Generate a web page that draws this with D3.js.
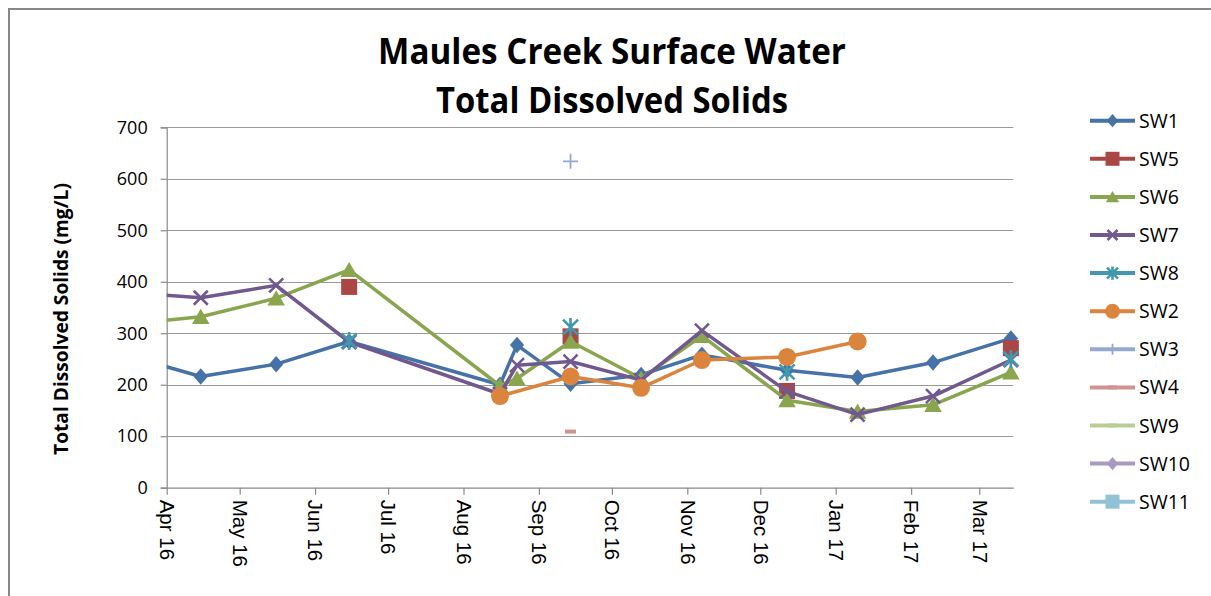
<!DOCTYPE html>
<html>
<head>
<meta charset="utf-8">
<script src="https://cdn.jsdelivr.net/npm/d3@7"></script>
<style>
  html, body { margin: 0; padding: 0; background: #fff; overflow: hidden; }
  svg { display: block; }
</style>
</head>
<body>
<div id="chart"></div>
<script>
// --- data ---
var xDomain = ["2016-04-01", "2017-03-15"];
var tickDates = ["2016-04-01", "2016-05-01", "2016-06-01", "2016-07-01", "2016-08-01", "2016-09-01",
                 "2016-10-01", "2016-11-01", "2016-12-01", "2017-01-01", "2017-02-01", "2017-03-01"];
var tickLabels = ["Apr 16", "May 16", "Jun 16", "Jul 16", "Aug 16", "Sep 16",
                  "Oct 16", "Nov 16", "Dec 16", "Jan 17", "Feb 17", "Mar 17"];
var yTicks = [0, 100, 200, 300, 400, 500, 600, 700];

var seriesNames = ["SW1", "SW5", "SW6", "SW7", "SW8", "SW2", "SW3", "SW4", "SW9", "SW10", "SW11"];
var seriesColors = ["#4572A7", "#AA4643", "#89A54E", "#71588F", "#4198AF", "#DB843D",
                    "#93A9CF", "#D19392", "#B9CD96", "#A99BBD", "#91C3D5"];
var seriesMarkers = ["diamond", "square", "triangle", "x", "asterisk", "circle",
                     "plus", "dash", "dash", "diamond", "square"];

// [date, TDS mg/L]; null = break in the line
var sw1 = [["2016-03-17", 255], ["2016-04-15", 216], ["2016-05-16", 240], ["2016-06-15", 284],
           ["2016-08-16", 200], ["2016-08-23", 277], ["2016-09-14", 202], ["2016-10-13", 219],
           ["2016-11-07", 258], ["2016-12-12", 228], ["2017-01-10", 214], ["2017-02-10", 243],
           ["2017-03-14", 290]];
var sw5 = [["2016-06-15", 390], null, ["2016-09-14", 294], null, ["2016-12-12", 188], null,
           ["2017-03-14", 271]];
var sw6 = [["2016-03-17", 318], ["2016-04-15", 332], ["2016-05-16", 368], ["2016-06-15", 423],
           ["2016-08-16", 198], ["2016-08-23", 212], ["2016-09-14", 284], ["2016-10-13", 212],
           ["2016-11-07", 295], ["2016-12-12", 170], ["2017-01-10", 148], ["2017-02-10", 161],
           ["2017-03-14", 224]];
var sw7 = [["2016-03-17", 379], ["2016-04-15", 369], ["2016-05-16", 393], ["2016-06-15", 283],
           ["2016-08-16", 182], ["2016-08-23", 238], ["2016-09-14", 245], ["2016-10-13", 209],
           ["2016-11-07", 305], ["2016-12-12", 187], ["2017-01-10", 142], ["2017-02-10", 178],
           ["2017-03-14", 248]];
var sw8 = [["2016-06-15", 285], null, ["2016-09-14", 312], null, ["2016-12-12", 225], null,
           ["2017-03-14", 250]];
var sw2 = [["2016-08-16", 178], ["2016-09-14", 216], ["2016-10-13", 194], ["2016-11-07", 248],
           ["2016-12-12", 254], ["2017-01-10", 284]];
var sw3 = [["2016-09-14", 634]];
var sw4 = [["2016-09-14", 109]];
var sw9 = [];
var sw10 = [];
var sw11 = [];
var seriesData = [sw1, sw5, sw6, sw7, sw8, sw2, sw3, sw4, sw9, sw10, sw11];

// --- layout ---
var W = 1211, H = 596;
var plot = { left: 166.7, right: 1013.3, top: 127.3, bottom: 487.7 };

var parse = d3.timeParse("%Y-%m-%d");

var x = d3.scaleTime()
    .domain(xDomain.map(parse))
    .range([plot.left, plot.right]);
var y = d3.scaleLinear()
    .domain([0, 700])
    .range([plot.bottom, plot.top]);

var svg = d3.select("#chart").append("svg")
    .attr("width", W)
    .attr("height", H);

svg.append("rect").attr("width", W).attr("height", H).style("fill", "#fff");

// chart area border (runs off the right and bottom of the picture)
svg.append("rect")
    .attr("x", 9).attr("y", 9)
    .attr("width", W + 20).attr("height", H + 20)
    .style("fill", "none")
    .style("stroke", "#878787")
    .style("stroke-width", 2);

// fit a text element to a given width
function fitWidth(sel, target) {
    var node = sel.node();
    var size = parseFloat(sel.style("font-size"));
    var len = node.getComputedTextLength();
    if (len > 0) sel.style("font-size", (size * target / len) + "px");
}

// title (stretched a little in height, the original face is narrow)
var titleFont = "'Open Sans', sans-serif";
function titleLine(txt, baseline, width) {
    var t = svg.append("g")
        .attr("transform", "translate(612," + baseline + ") scale(1,1.1)")
        .append("text")
        .attr("text-anchor", "middle")
        .style("font-family", titleFont)
        .style("font-weight", "bold")
        .style("font-size", "34px")
        .text(txt);
    fitWidth(t, width);
}
titleLine("Maules Creek Surface Water", 64, 468);
titleLine("Total Dissolved Solids", 113, 352);

// y axis title
var yt = svg.append("text")
    .attr("transform", "translate(68,319) rotate(-90)")
    .attr("text-anchor", "middle")
    .style("font-family", "'Open Sans', sans-serif")
    .style("font-weight", "bold")
    .style("font-size", "16px")
    .text("Total Dissolved Solids (mg/L)");
fitWidth(yt, 272);

// gridlines
svg.append("g")
    .selectAll("line")
    .data(yTicks.filter(function(d) { return d > 0; }))
    .enter().append("line")
    .attr("x1", plot.left).attr("x2", plot.right)
    .attr("y1", function(d) { return Math.round(y(d)) + 0.5; })
    .attr("y2", function(d) { return Math.round(y(d)) + 0.5; })
    .style("stroke", "#9a9a9a")
    .style("stroke-width", 1.2);

// y axis
var yAxis = svg.append("g")
    .attr("transform", "translate(" + plot.left + ",0)")
    .call(d3.axisLeft(y).tickValues(yTicks).tickSize(6).tickPadding(13));
yAxis.select(".domain").style("stroke", "#8a8a8a").style("stroke-width", 1.2);
yAxis.selectAll(".tick line").style("stroke", "#8a8a8a").style("stroke-width", 1.2);
yAxis.selectAll("text")
    .style("font-family", "'Open Sans', sans-serif")
    .style("font-size", "18px")
    .style("fill", "#000");

// x axis
var xAxis = svg.append("g")
    .attr("transform", "translate(0," + plot.bottom + ")")
    .call(d3.axisBottom(x)
        .tickValues(tickDates.map(parse))
        .tickFormat(function(d, i) { return tickLabels[i]; })
        .tickSize(7)
        .tickSizeOuter(0));
xAxis.select(".domain").style("stroke", "#8a8a8a").style("stroke-width", 1.2);
xAxis.selectAll(".tick line").style("stroke", "#8a8a8a").style("stroke-width", 1.2);
xAxis.selectAll("text")
    .attr("transform", "rotate(90)")
    .attr("x", 12)
    .attr("y", 0)
    .attr("dy", "0.35em")
    .attr("text-anchor", "start")
    .style("font-family", "'Liberation Sans', Arial, sans-serif")
    .style("font-size", "20.5px")
    .style("fill", "#000");

// markers
function markerPath(type, s) {
    var r = s / 2;
    switch (type) {
        case "diamond": return "M0," + (-r * 1.1) + "L" + (r * 0.95) + ",0L0," + (r * 1.1) + "L" + (-r * 0.95) + ",0Z";
        case "square": return "M" + (-r) + "," + (-r) + "h" + s + "v" + s + "h" + (-s) + "Z";
        case "triangle": return "M0," + (-r) + "L" + (r * 1.1) + "," + (r * 0.9) + "L" + (-r * 1.1) + "," + (r * 0.9) + "Z";
        case "x": return "M" + (-r) + "," + (-r) + "L" + r + "," + r + "M" + r + "," + (-r) + "L" + (-r) + "," + r;
        case "asterisk": return "M" + (-r) + "," + (-r) + "L" + r + "," + r + "M" + r + "," + (-r) + "L" + (-r) + "," + r +
                                "M0," + (-r * 1.2) + "L0," + (r * 1.2);
        case "plus": return "M" + (-r) + ",0L" + r + ",0M0," + (-r) + "L0," + r;
        case "dash": return "M" + (-r) + ",-2h" + s + "v4h" + (-s) + "Z";
    }
    return "";
}

function drawMarker(g, type, color, s) {
    if (type === "circle") {
        g.append("circle").attr("r", s / 2).style("fill", color);
        return;
    }
    var p = g.append("path").attr("d", markerPath(type, s));
    if (type === "x" || type === "asterisk" || type === "plus") {
        p.style("fill", "none").style("stroke", color)
         .style("stroke-width", type === "plus" ? 1.8 : 2.6);
    } else {
        p.style("fill", color);
    }
}

var markerSize = { diamond: 15, square: 16, triangle: 16, x: 14, asterisk: 15, circle: 18, plus: 15, dash: 11 };

svg.append("defs").append("clipPath").attr("id", "plotClip")
    .append("rect")
    .attr("x", plot.left).attr("y", plot.top)
    .attr("width", plot.right - plot.left).attr("height", plot.bottom - plot.top);

var line = d3.line()
    .defined(function(d) { return d !== null; })
    .x(function(d) { return x(parse(d[0])); })
    .y(function(d) { return y(d[1]); });

var d0 = x.domain()[0], d1 = x.domain()[1];

seriesData.forEach(function(data, i) {
    var g = svg.append("g");
    var color = seriesColors[i];
    if (data.length > 1) {
        g.append("path")
            .datum(data)
            .attr("d", line)
            .attr("clip-path", "url(#plotClip)")
            .style("fill", "none")
            .style("stroke", color)
            .style("stroke-width", 3.5)
            .style("stroke-linejoin", "round");
    }
    data.filter(function(d) {
        if (d === null) return false;
        var t = parse(d[0]);
        return t >= d0 && t <= d1;
    }).forEach(function(d) {
        var mg = g.append("g")
            .attr("transform", "translate(" + x(parse(d[0])) + "," + y(d[1]) + ")");
        drawMarker(mg, seriesMarkers[i], color, markerSize[seriesMarkers[i]]);
    });
});

// legend
var legendSize = { diamond: 12, square: 14, triangle: 12, x: 10, asterisk: 11, circle: 15, plus: 11, dash: 9 };
var legend = svg.append("g");
seriesNames.forEach(function(name, i) {
    var row = legend.append("g")
        .attr("transform", "translate(0," + (120.7 + i * 38.1) + ")");
    row.append("line")
        .attr("x1", 1090).attr("x2", 1135)
        .style("stroke", seriesColors[i])
        .style("stroke-width", 4);
    var mg = row.append("g").attr("transform", "translate(1112.5,0)");
    drawMarker(mg, seriesMarkers[i], seriesColors[i], legendSize[seriesMarkers[i]]);
    row.append("text")
        .attr("x", 1139)
        .attr("dy", "0.36em")
        .style("font-family", "'Open Sans', sans-serif")
        .style("font-size", "19.5px")
        .style("fill", "#000")
        .text(name);
});
</script>
</body>
</html>
